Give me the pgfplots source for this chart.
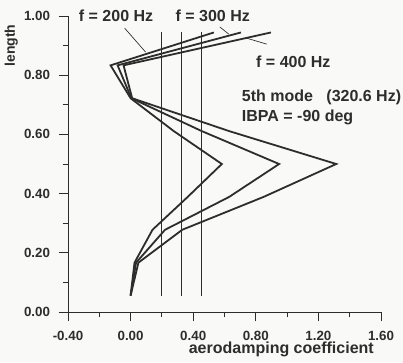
\documentclass[border=0pt]{standalone}
\usepackage{pgfplots}
\pgfplotsset{compat=1.18}
\usepackage{fontspec}
\setmainfont{Liberation Sans}
\definecolor{ink}{RGB}{45,45,45}
\definecolor{paper}{RGB}{249,249,247}

\begin{document}
\begin{tikzpicture}
% page background
\fill[paper] (-51pt,-37.5pt) rectangle (251.25pt,234pt);
\begin{axis}[
  scale only axis,
  width=234.75pt, height=222pt,
  xmin=-0.4, xmax=1.6, ymin=0, ymax=1,
  clip=false,
  axis lines*=left,
  axis line style={ink, line width=0.7pt},
  tick align=outside,
  major tick length=7pt, minor tick length=4pt,
  every tick/.style={ink, line width=0.7pt},
  xtick={-0.4,0,0.4,0.8,1.2,1.6},
  minor xtick={-0.2,0.2,0.6,1.0,1.4},
  ytick={0,0.2,0.4,0.6,0.8,1.0},
  minor ytick={0.1,0.3,0.5,0.7,0.9},
  /pgf/number format/assume math mode=true,
  /pgf/number format/.cd, fixed, fixed zerofill, precision=2,
  /pgfplots/.cd,
  ticklabel style={font=\fontsize{10}{12}\selectfont\bfseries, text=ink},
  xticklabel style={yshift=-3.5pt},
  yticklabel style={xshift=-3pt},
]
% strip-wise damping, one polyline per frequency
\addplot[ink, line width=1.35pt] coordinates {
  (0.000,0.0556) (0.025,0.1667) (0.140,0.2778) (0.365,0.3889) (0.583,0.5000)
  (0.276,0.6111) (0.000,0.7222) (-0.128,0.8333) (0.532,0.9444)};
\addplot[ink, line width=1.35pt] coordinates {
  (0.000,0.0556) (0.035,0.1667) (0.220,0.2778) (0.630,0.3889) (0.949,0.5000)
  (0.455,0.6111) (0.005,0.7222) (-0.083,0.8333) (0.705,0.9444)};
\addplot[ink, line width=1.35pt] coordinates {
  (0.000,0.0556) (0.050,0.1667) (0.330,0.2778) (0.850,0.3889) (1.314,0.5000)
  (0.630,0.6111) (0.010,0.7222) (-0.045,0.8333) (0.897,0.9444)};
% blade-averaged values
\addplot[ink, line width=0.7pt] coordinates {(0.200,0.0556) (0.200,0.9444)};
\addplot[ink, line width=0.7pt] coordinates {(0.326,0.0556) (0.326,0.9444)};
\addplot[ink, line width=0.7pt] coordinates {(0.452,0.0556) (0.452,0.9444)};
% leader lines
\draw[ink, line width=0.5pt] (axis cs:-0.038,0.959) -- (axis cs:0.096,0.878);
\draw[ink, line width=0.5pt] (axis cs:0.570,0.963) -- (axis cs:0.627,0.939);
\draw[ink, line width=0.5pt] (axis cs:0.736,0.926) -- (axis cs:0.870,0.905);
% annotations
\begin{scope}[every node/.style={text=ink, font=\fontsize{12}{14}\selectfont\bfseries, inner sep=0pt}]
\node at (axis cs:-0.093,1.0) {f = 200 Hz};
\node at (axis cs:0.525,1.0) {f = 300 Hz};
\node at (axis cs:1.040,0.845) {f = 400 Hz};
\node[anchor=west] at (axis cs:0.710,0.726) {5th mode\ \ \ (320.6 Hz)};
\node[anchor=west] at (axis cs:0.710,0.659) {IBPA = -90 deg};
\node at (axis cs:0.963,-0.128) {aerodamping coefficient};
\node[rotate=90, font=\fontsize{10.5}{12}\selectfont\bfseries] at (axis cs:-0.762,0.90) {length};
\end{scope}
\end{axis}
\pgfresetboundingbox
\useasboundingbox (-51pt,-37.5pt) rectangle (251.25pt,234pt);
\end{tikzpicture}
\end{document}
